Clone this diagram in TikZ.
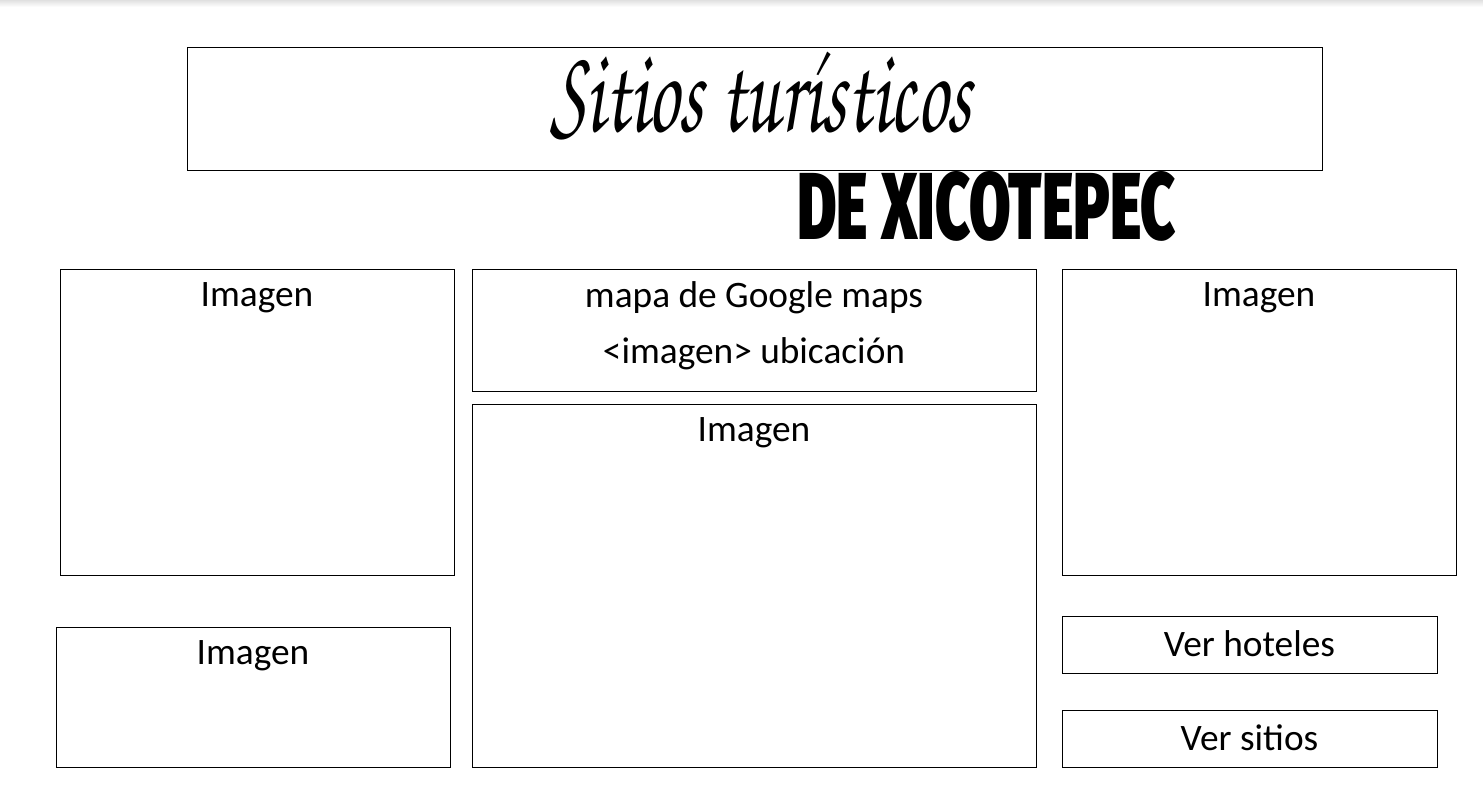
\documentclass[tikz,border=0pt]{standalone}
\usepackage{fontspec}
\setmainfont{Carlito}
\newfontface\heavyfont{Fira Sans Black}
\usepackage{graphicx}
\begin{document}
\begin{tikzpicture}[x=0.75pt,y=-0.75pt,
  box/.style={draw=black,line width=1pt,inner sep=0pt,anchor=north west},
  label/.style={font=\fontsize{28pt}{32pt}\selectfont,inner sep=0pt,anchor=center}]
% page area
\useasboundingbox (0,0) rectangle (1483,805);
\fill[white] (0,0) rectangle (1483,805);
\shade[top color=black!12,bottom color=white] (0,0) rectangle (1483,7);

% heading
\node[box,minimum width={1135*0.75pt},minimum height={123*0.75pt}] (title) at (187,47) {};
\node[inner sep=0pt,anchor=center] (script) at (761,96)
  {\resizebox{316pt}{60pt}{\fontencoding{T1}\fontfamily{pzc}\selectfont Sitios tur\'{\i}sticos}};
\node[inner sep=0pt,anchor=center] (sub) at (986.5,206)
  {\resizebox{284pt}{51pt}{\heavyfont DE XICOTEPEC}};

% content boxes
\node[box,minimum width={394*0.75pt},minimum height={306*0.75pt}] (imgL) at (60,269) {};
\node[box,minimum width={394*0.75pt},minimum height={140*0.75pt}] (imgLB) at (56,627) {};
\node[box,minimum width={564*0.75pt},minimum height={122*0.75pt}] (map) at (472,269) {};
\node[box,minimum width={564*0.75pt},minimum height={363*0.75pt}] (imgC) at (472,404) {};
\node[box,minimum width={394*0.75pt},minimum height={306*0.75pt}] (imgR) at (1062,269) {};
\node[box,minimum width={375*0.75pt},minimum height={57*0.75pt}] (hot) at (1062,616) {};
\node[box,minimum width={375*0.75pt},minimum height={57*0.75pt}] (sit) at (1062,710) {};

% labels
\node[label] (tL) at (257,298) {Imagen};
\node[label] (tLB) at (253,656) {Imagen};
\node[label] (tM1) at (754,298) {mapa de Google maps};
\node[label] (tM2) at (754,354) {<imagen> ubicación};
\node[label] (tC) at (754,433) {Imagen};
\node[label] (tR) at (1259,298) {Imagen};
\node[label] (tH) at (1249.5,644) {Ver hoteles};
\node[label] (tS) at (1249.5,738) {Ver sitios};
\end{tikzpicture}
\end{document}
